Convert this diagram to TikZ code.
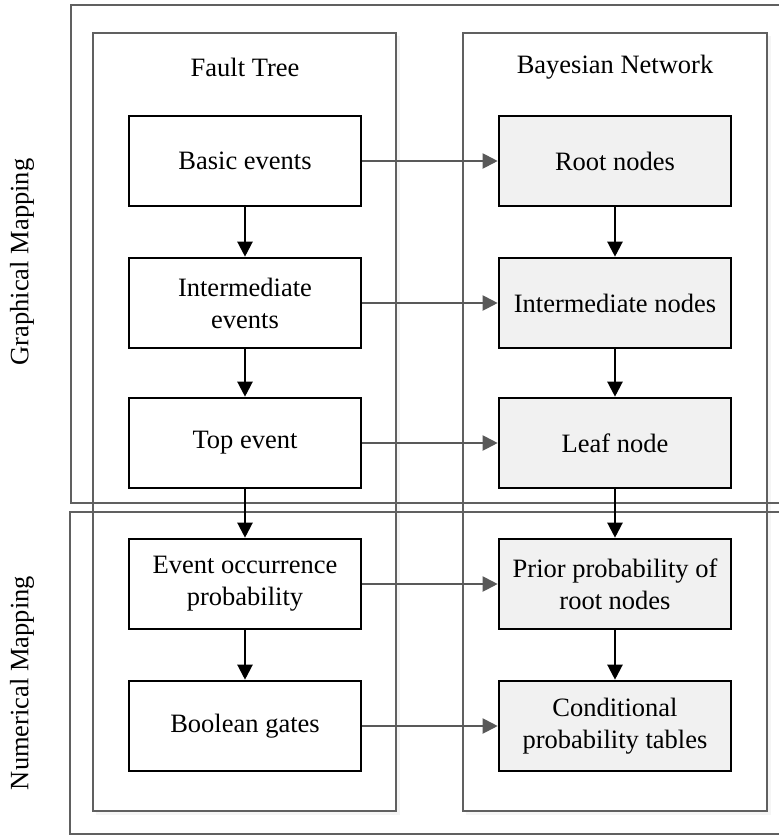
\documentclass[tikz,border=0pt]{standalone}
\usepackage{fontspec}
\setmainfont{Liberation Serif}
\usetikzlibrary{arrows.meta}
\definecolor{bnfill}{HTML}{F1F1F1}
\definecolor{hline}{HTML}{595959}
\definecolor{frameg}{HTML}{606060}
\begin{document}
\begin{tikzpicture}[x=1pt,y=-1pt,
  every node/.style={font=\fontsize{26.5}{32}\selectfont},
  ftbox/.style={draw=black, line width=2.6pt, fill=white, minimum width=232pt, minimum height=90pt, align=center, inner sep=0pt},
  bnbox/.style={ftbox, fill=bnfill},
  vline/.style={draw=black, line width=2.2pt, -{Triangle[length=15pt,width=15pt]}},
  harrow/.style={draw=hline, line width=2pt, -{Triangle[length=15pt,width=15pt]}},
  outer/.style={draw=frameg, line width=1.6pt},
  column/.style={draw=frameg, line width=2pt}
]
\useasboundingbox (0,0) rectangle (779,836);
% column shadows
\fill[black!4] (96,36) rectangle (400,815);
\fill[black!4] (466,36) rectangle (771,815);
\fill[white] (94,34) rectangle (395,810);
\fill[white] (464,34) rectangle (766,810);
% columns
\draw[column] (93,33) rectangle (396,811);
\draw[column] (463,33) rectangle (767,811);
% outer mapping frames
\draw[outer] (785,5) -- (71,5) -- (71,503) -- (785,503);
\draw[outer] (785,512) -- (70,512) -- (70,834) -- (785,834);
% side labels
\node[rotate=90] (gm) at (22,262) {Graphical Mapping};
\node[rotate=90] (nm) at (22,683) {Numerical Mapping};
% titles
\node (ft) at (245,67) {Fault Tree};
\node (bn) at (615,67) {Bayesian Network};
% fault tree nodes
\node[ftbox] (be) at (245,161) {Basic events};
\node[ftbox] (ie) at (245,303) {Intermediate\\events};
\node[ftbox] (te) at (245,443) {Top event};
\node[ftbox] (eo) at (245,584) {Event occurrence\\probability};
\node[ftbox] (bg) at (245,726) {Boolean gates};
% bayesian nodes
\node[bnbox] (rn) at (615,161) {Root nodes};
\node[bnbox] (in) at (615,303) {Intermediate nodes};
\node[bnbox] (ln) at (615,443) {Leaf node};
\node[bnbox] (pp) at (615,584) {Prior probability of\\root nodes};
\node[bnbox] (ct) at (615,726) {Conditional\\probability tables};
% vertical arrows
\draw[vline] (be) -- (ie);
\draw[vline] (ie) -- (te);
\draw[vline] (te) -- (eo);
\draw[vline] (eo) -- (bg);
\draw[vline] (rn) -- (in);
\draw[vline] (in) -- (ln);
\draw[vline] (ln) -- (pp);
\draw[vline] (pp) -- (ct);
% horizontal arrows
\draw[harrow] (be) -- (rn);
\draw[harrow] (ie) -- (in);
\draw[harrow] (te) -- (ln);
\draw[harrow] (eo) -- (pp);
\draw[harrow] (bg) -- (ct);
\end{tikzpicture}
\end{document}
